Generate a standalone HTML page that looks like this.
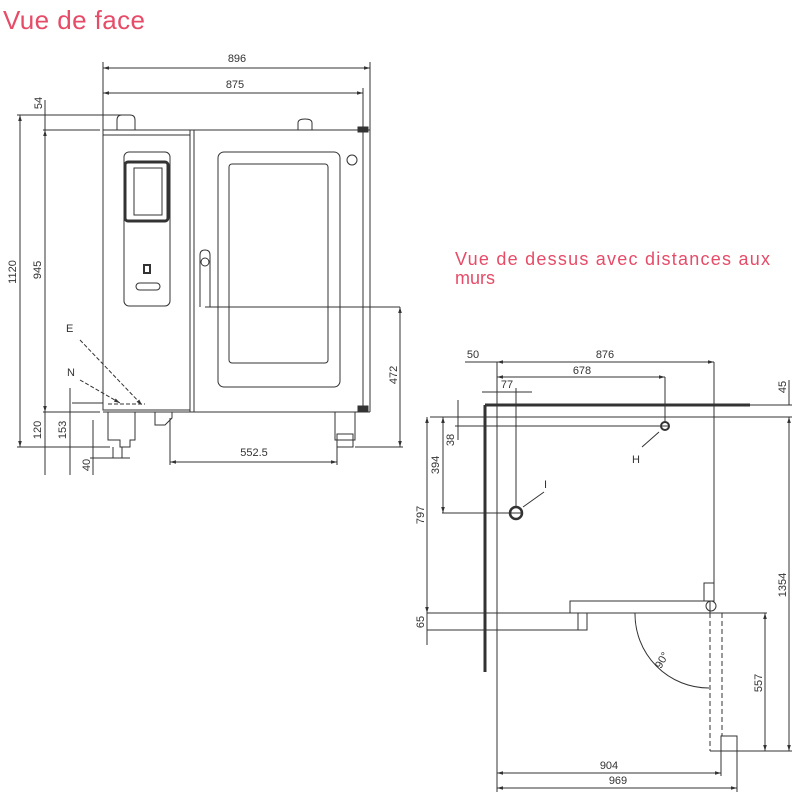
<!DOCTYPE html>
<html><head><meta charset="utf-8"><style>
html,body{margin:0;padding:0;background:#fff;width:800px;height:800px;overflow:hidden}
svg{display:block}
.t{font-family:"Liberation Sans",sans-serif;fill:#333;font-size:11px}
.r{font-family:"Liberation Sans",sans-serif;fill:#e64b68}
</style></head><body>
<svg width="800" height="800" viewBox="0 0 800 800" xmlns="http://www.w3.org/2000/svg">
<defs>
<marker id="a" viewBox="0 0 10 10" refX="10" refY="5" markerWidth="6" markerHeight="6" orient="auto-start-reverse"><path d="M0,2 L10,5 L0,8z" fill="#333"/></marker>
</defs>
<text class="r" x="3" y="29" font-size="26" textLength="142">Vue de face</text>
<text class="r" x="455" y="265" font-size="18" textLength="315">Vue de dessus avec distances aux</text>
<text class="r" x="455" y="284" font-size="18">murs</text>

<g stroke="#333" stroke-width="1" fill="none">
<!-- front view dims -->
<line x1="103" y1="68" x2="370" y2="68" marker-start="url(#a)" marker-end="url(#a)"/>
<line x1="103" y1="93" x2="363" y2="93" marker-start="url(#a)" marker-end="url(#a)"/>
<line x1="103" y1="62" x2="103" y2="135"/>
<line x1="370" y1="62" x2="370" y2="412"/>
<line x1="363" y1="88" x2="363" y2="412"/>
<line x1="17" y1="115" x2="125" y2="115"/>
<line x1="43" y1="130" x2="100" y2="130"/>
<line x1="20" y1="115" x2="20" y2="447" marker-start="url(#a)" marker-end="url(#a)"/>
<line x1="45" y1="100" x2="45" y2="130"/>
<line x1="45" y1="130" x2="45" y2="412" marker-start="url(#a)" marker-end="url(#a)"/>
<line x1="45" y1="412" x2="45" y2="475"/>
<line x1="43" y1="412" x2="100" y2="412"/>
<line x1="72" y1="403" x2="103" y2="403"/>
<line x1="17" y1="447" x2="110" y2="447"/>
<line x1="70" y1="388" x2="70" y2="475"/>
<line x1="93" y1="420" x2="93" y2="475"/>
<line x1="90" y1="458" x2="130" y2="458"/>
<!-- top humps -->
<path d="M117,130 V120 Q117,115 122,115 H130 Q135,115 135,120 V130"/>
<path d="M298,130 V123 Q298,119 305,119 Q312,119 312,123 V130"/>
<line x1="103" y1="130" x2="370" y2="130"/>
<!-- body -->
<rect x="103" y="135" width="87" height="275"/>
<line x1="190" y1="130" x2="190" y2="412"/>
<line x1="194" y1="130" x2="194" y2="412"/>
<line x1="103" y1="412" x2="370" y2="412"/>
<rect x="124" y="152" width="46" height="154" rx="5"/>
<rect x="125" y="162" width="43" height="59" rx="3" stroke-width="3"/>
<rect x="134" y="168" width="28" height="47"/>
<rect x="144" y="265" width="6" height="8" stroke-width="2"/>
<rect x="136" y="283" width="24" height="7" rx="3.5"/>
<rect x="218" y="152" width="122" height="235" rx="6"/>
<rect x="229" y="164" width="99" height="199" rx="3"/>
<path d="M200,307 V255 Q200,250 205,250 Q210,250 210,255 V307"/>
<circle cx="205" cy="262" r="4"/>
<circle cx="352" cy="160" r="5"/>
<line x1="205" y1="307" x2="400" y2="307"/>
<line x1="400" y1="307" x2="400" y2="447" marker-start="url(#a)" marker-end="url(#a)"/>
<line x1="355" y1="447" x2="403" y2="447"/>
<rect x="358" y="127" width="10" height="5" fill="#333"/>
<rect x="358" y="406" width="10" height="5" fill="#333"/>
<!-- feet -->
<path d="M108,412 V440 H120 V447 H130 V440 H135 V412"/>
<line x1="113" y1="447" x2="113" y2="458"/>
<line x1="122" y1="447" x2="122" y2="458"/>
<path d="M155,412 V425 H165 L172,418 V412"/>
<path d="M335,412 V440 H355 V412"/>
<rect x="337" y="434" width="16" height="13"/>
<line x1="170" y1="418" x2="170" y2="465"/>
<line x1="337" y1="440" x2="337" y2="465"/>
<line x1="170" y1="462" x2="337" y2="462" marker-start="url(#a)" marker-end="url(#a)"/>
<line x1="80" y1="340" x2="142" y2="405" stroke-dasharray="4,2" marker-end="url(#a)"/>
<line x1="80" y1="380" x2="120" y2="403" stroke-dasharray="4,2" marker-end="url(#a)"/>
<line x1="108" y1="404" x2="145" y2="404" stroke-dasharray="4,2"/>
</g>
<text class="t" x="237" y="62" text-anchor="middle">896</text>
<text class="t" x="235" y="88" text-anchor="middle">875</text>
<text class="t" x="254" y="456" text-anchor="middle">552.5</text>
<text class="t" transform="translate(42,103) rotate(-90)" text-anchor="middle">54</text>
<text class="t" transform="translate(16,272) rotate(-90)" text-anchor="middle">1120</text>
<text class="t" transform="translate(41,270) rotate(-90)" text-anchor="middle">945</text>
<text class="t" transform="translate(41,430) rotate(-90)" text-anchor="middle">120</text>
<text class="t" transform="translate(66,430) rotate(-90)" text-anchor="middle">153</text>
<text class="t" transform="translate(90,465) rotate(-90)" text-anchor="middle">40</text>
<text class="t" transform="translate(397,375) rotate(-90)" text-anchor="middle">472</text>
<text class="t" x="66" y="332" font-size="15">E</text>
<text class="t" x="67" y="376" font-size="15">N</text>

<!-- top view -->
<g stroke="#333" stroke-width="1" fill="none">
<line x1="485" y1="405" x2="485" y2="672" stroke-width="3"/>
<line x1="485" y1="405" x2="750" y2="405" stroke-width="3"/>
<line x1="497" y1="362" x2="497" y2="792"/>
<line x1="714" y1="362" x2="714" y2="583"/>
<line x1="430" y1="417" x2="792" y2="417"/>
<line x1="465" y1="362" x2="497" y2="362"/>
<line x1="497" y1="362" x2="714" y2="362" marker-start="url(#a)" marker-end="url(#a)"/>
<line x1="497" y1="377" x2="665" y2="377" marker-start="url(#a)" marker-end="url(#a)"/>
<line x1="482" y1="392" x2="532" y2="392"/>
<line x1="665" y1="377" x2="665" y2="422"/>
<circle cx="665" cy="426" r="4" stroke-width="2"/>
<line x1="661" y1="426" x2="669" y2="426"/>
<line x1="642" y1="447" x2="659" y2="432"/>
<line x1="516" y1="388" x2="516" y2="507"/>
<circle cx="516" cy="513" r="6" stroke-width="2.5"/>
<line x1="510" y1="513" x2="522" y2="513"/>
<line x1="523" y1="507" x2="544" y2="492"/>
<line x1="458" y1="400" x2="458" y2="440"/>
<line x1="455" y1="426" x2="660" y2="426"/>
<line x1="443" y1="417" x2="443" y2="513" marker-start="url(#a)" marker-end="url(#a)"/>
<line x1="442" y1="513" x2="510" y2="513"/>
<line x1="427" y1="417" x2="427" y2="613" marker-start="url(#a)" marker-end="url(#a)"/>
<line x1="427" y1="613" x2="427" y2="645"/>
<line x1="427" y1="613" x2="570" y2="613"/>
<line x1="427" y1="630" x2="580" y2="630"/>
<path d="M570,613 V601 H710 V613"/>
<line x1="570" y1="613" x2="720" y2="613"/>
<rect x="578" y="613" width="9" height="17"/>
<rect x="704" y="583" width="10" height="18"/>
<circle cx="711" cy="606" r="5"/>
<line x1="720" y1="613" x2="767" y2="613"/>
<line x1="710" y1="613" x2="710" y2="751" stroke-dasharray="5,3"/>
<line x1="722" y1="613" x2="722" y2="736" stroke-dasharray="5,3"/>
<path d="M635,613 A74,74 0 0 0 709,688"/>
<line x1="710" y1="751" x2="792" y2="751"/>
<rect x="721" y="736" width="16" height="15"/>
<line x1="737" y1="751" x2="737" y2="792"/>
<line x1="721" y1="751" x2="721" y2="776"/>
<line x1="765" y1="613" x2="765" y2="751" marker-start="url(#a)" marker-end="url(#a)"/>
<line x1="789" y1="417" x2="789" y2="751" marker-start="url(#a)" marker-end="url(#a)"/>
<line x1="789" y1="380" x2="789" y2="405"/>
<line x1="750" y1="405" x2="792" y2="405"/>
<line x1="497" y1="773" x2="721" y2="773" marker-start="url(#a)" marker-end="url(#a)"/>
<line x1="497" y1="788" x2="737" y2="788" marker-start="url(#a)" marker-end="url(#a)"/>
</g>
<text class="t" x="605" y="358" text-anchor="middle">876</text>
<text class="t" x="473" y="358" text-anchor="middle">50</text>
<text class="t" x="582" y="374" text-anchor="middle">678</text>
<text class="t" x="507" y="388" text-anchor="middle">77</text>
<text class="t" x="609" y="769" text-anchor="middle">904</text>
<text class="t" x="618" y="784" text-anchor="middle">969</text>
<text class="t" x="632" y="463" font-size="15">H</text>
<text class="t" x="544" y="488" font-size="15">I</text>
<text class="t" transform="translate(454,440) rotate(-90)" text-anchor="middle">38</text>
<text class="t" transform="translate(439,465) rotate(-90)" text-anchor="middle">394</text>
<text class="t" transform="translate(424,515) rotate(-90)" text-anchor="middle">797</text>
<text class="t" transform="translate(424,622) rotate(-90)" text-anchor="middle">65</text>
<text class="t" transform="translate(786,387) rotate(-90)" text-anchor="middle">45</text>
<text class="t" transform="translate(786,585) rotate(-90)" text-anchor="middle">1354</text>
<text class="t" transform="translate(762,683) rotate(-90)" text-anchor="middle">557</text>
<text class="t" transform="translate(665,662) rotate(-60)" text-anchor="middle">90°</text>
</svg>
</body></html>
